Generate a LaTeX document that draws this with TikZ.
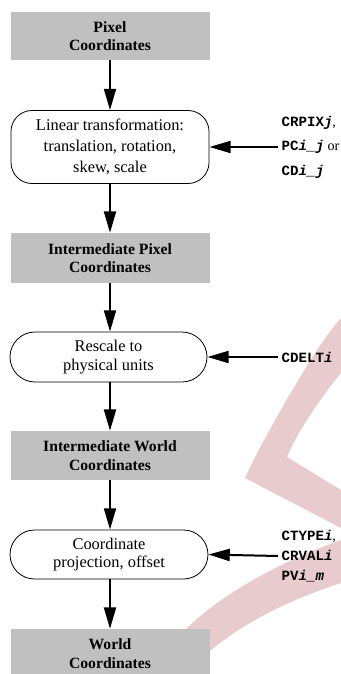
\documentclass[tikz,border=0pt]{standalone}
\usepackage{fontspec}
\setmainfont{Liberation Serif}
\setmonofont{Liberation Mono}
\usetikzlibrary{arrows.meta,positioning}

\definecolor{boxgray}{RGB}{192,192,192}
\definecolor{markpink}{RGB}{231,203,205}
\newcommand{\kw}[1]{\texttt{\bfseries #1}}

\begin{document}
\begin{tikzpicture}[x=0.75pt,y=-0.75pt,
    >={Triangle[length=16pt,width=9pt]},
    coordbox/.style={fill=boxgray,minimum width=149.25pt,minimum height=36pt,
                     align=center,inner sep=0pt,
                     font=\fontsize{11.75}{14}\selectfont\bfseries},
    opbox/.style={draw,line width=0.6pt,fill=white,minimum width=148.5pt,
                  align=center,inner sep=0pt,
                  font=\fontsize{12.3}{14}\selectfont},
    kwlabel/.style={anchor=west,align=left,inner sep=0pt,inner xsep=2.5pt},
    flow/.style={->,line width=1.5pt}]

  \useasboundingbox (0,0) rectangle (341,674);

  % watermark behind the chart
  \fill[markpink] (341,318) .. controls (318,342) and (262,440) .. (245,478)
        -- (341,528) -- (341,490) -- (287,457)
        .. controls (298,430) and (325,392) .. (341,373) -- cycle;
  \fill[markpink] (341,540) .. controls (290,558) and (225,590) .. (185,630)
        -- (200,660) .. controls (240,622) and (295,598) .. (341,583) -- cycle;

  \node[coordbox]                      (pix) at (110,36)    {Pixel\\Coordinates};
  \node[opbox,minimum height=54.75pt,font=\fontsize{12.3}{15.75}\selectfont,
        rounded corners=15.75pt]       (lin) at (110,147)   {Linear transformation:\\translation, rotation,\\skew, scale};
  \node[coordbox,minimum height=37.5pt] (ipc) at (110,258)  {Intermediate Pixel\\Coordinates};
  \node[opbox,minimum height=37.5pt,minimum width=147.75pt,
        rounded corners=18.75pt]       (scl) at (108.5,357) {Rescale to\\physical units};
  \node[coordbox,minimum height=36.75pt] (iwc) at (110,455.5) {Intermediate World\\Coordinates};
  \node[opbox,minimum height=36.75pt,
        rounded corners=18.4pt]        (prj) at (109,554.5) {Coordinate\\projection, offset};
  \node[coordbox,minimum height=36.75pt] (wc) at (110,653.5) {World\\Coordinates};

  % keyword inputs
  \node[kwlabel,font=\fontsize{10.6}{18.4}\selectfont] (crpix) at (278,147)
       {\kw{CRPIX\itshape j},\\\kw{PC\itshape i\_j} or\\\kw{CD\itshape i\_j}};
  \node[kwlabel,font=\fontsize{10.6}{15}\selectfont]   (cdelt) at (278,357)
       {\kw{CDELT\itshape i}};
  \node[kwlabel,font=\fontsize{10.6}{15}\selectfont]   (ctype) at (278,556)
       {\kw{CTYPE\itshape i},\\\kw{CRVAL\itshape i}\\\kw{PV\itshape i\_m}};

  \draw[flow] (pix.south) -- (pix.south |- lin.north);
  \draw[flow] (pix.south |- lin.south) -- (pix.south |- ipc.north);
  \draw[flow] (ipc.south) -- (ipc.south |- scl.north);
  \draw[flow] (ipc.south |- scl.south) -- (ipc.south |- iwc.north);
  \draw[flow] (iwc.south) -- (iwc.south |- prj.north);
  \draw[flow] (iwc.south |- prj.south) -- (iwc.south |- wc.north);

  \draw[flow] (crpix.west) -- (lin.east);
  \draw[flow] (cdelt.west) -- (scl.east);
  \draw[flow] (ctype.west) -- (prj.east);
\end{tikzpicture}
\end{document}
